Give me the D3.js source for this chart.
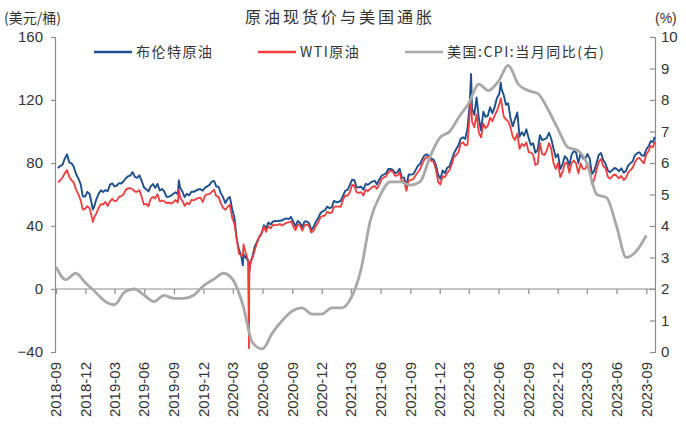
<!DOCTYPE html>
<html lang="zh">
<head>
<meta charset="UTF-8">
<script src="https://d3js.org/d3.v7.min.js"></script>
<title>原油现货价与美国通胀</title>
<style>
  body { margin: 0; background: #fff; }
  text { font-family: "Liberation Sans", Arial, sans-serif; fill: #333; }
  .cjk { font-family: "Noto Sans CJK SC", sans-serif; }
  .axis path, .axis line { stroke: #8c8c8c; stroke-width: 1.2; }
</style>
</head>
<body>
<div id="chart"></div>
<script>
// ---- data (weekly Friday spot, USD/bbl) ----
const brent2018 = [76.8, 78.1, 78.8, 82.7, 85.5, 80.4, 79.8, 77.6, 73.0, 70.2, 66.8, 58.8, 58.7, 61.7, 60.3, 53.8, 52.2];
const brent2019 = [57.1, 60.5, 62.7, 61.6, 62.8, 62.1, 66.3, 67.1, 65.1, 65.7, 67.2, 67.0, 68.4,
  70.3, 71.6, 72.0, 74.2, 71.2, 70.6, 72.2, 68.7, 64.5, 63.3, 62.0, 65.2, 66.6, 64.2, 66.7, 62.5, 63.5,
  61.9, 58.5, 58.6, 59.3, 60.4, 61.5, 60.2, 64.3, 61.9, 58.4, 60.5, 59.4, 61.7, 61.7, 62.5, 63.3, 63.4, 62.4,
  64.4, 65.2, 66.1, 68.2];
const brent2020 = [68.6, 65.0, 64.9, 60.7, 58.2, 54.5, 57.3, 58.5, 50.5, 45.3, 32.0, 25.0, 21.0,
  22.0, 20.0, 18.0, 16.0, 21.0, 27.0, 30.0, 33.0, 35.0, 40.5, 38.7, 42.2, 41.0, 42.8, 43.2, 43.1, 43.3, 43.5,
  44.4, 44.8, 44.4, 45.8, 42.7, 39.8, 43.2, 41.9, 39.3, 42.9, 42.9, 41.8, 37.5, 39.5, 42.8, 45.0, 48.2,
  49.3, 50.0, 52.3, 51.3];
const brent2021 = [51.8, 56.0, 55.1, 55.4, 55.9, 59.3, 62.4, 62.9, 66.1, 69.4, 69.2, 64.5, 64.6,
  64.9, 63.0, 66.8, 66.1, 67.3, 68.3, 68.7, 66.4, 69.6, 71.9, 72.7, 73.5, 76.2, 76.2, 75.6, 73.6, 74.1, 76.3,
  70.7, 70.6, 65.2, 72.7, 72.6, 72.9, 75.3, 78.1, 79.3, 82.4, 84.9, 85.5, 84.4, 82.7, 82.2, 78.9, 72.7,
  69.9, 75.2, 73.5, 76.9, 77.8];
const brent2022 = [81.8, 86.1, 88.9, 91.2, 95.4, 96.3, 95.3, 102.0, 118.1, 114.4, 110.6, 121.6,
  108.5, 100.6, 112.6, 109.3, 110.1, 115.4, 111.6, 115.6, 121.3, 123.6, 127.1, 123.2, 116.9,
  117.9, 108.4, 103.4, 107.8, 112.1, 96.7, 99.6, 97.3, 101.4, 95.8, 91.4, 92.5, 86.5, 88.3,
  97.6, 94.6, 95.2, 95.8, 99.2, 95.4, 89.2, 83.7, 85.6, 76.1, 79.3, 84.3, 82.8];
const brent2023 = [78.6, 85.3, 87.6, 86.7, 79.9, 86.4, 83.0, 82.4, 85.8, 82.8, 73.0, 75.0, 79.8,
  85.1, 86.3, 81.7, 79.5, 75.3, 74.2, 75.6, 76.9, 76.1, 74.8, 76.6, 73.9, 74.9, 78.5, 79.9, 81.1, 85.0,
  86.2, 86.8, 84.8, 84.5, 88.6, 90.6, 93.9, 93.3];

const wti2018 = [67.8, 69.0, 70.8, 73.3, 75.5, 71.3, 69.1, 67.6, 63.1, 60.2, 56.5, 50.4, 50.9, 52.6, 51.2, 45.6, 45.3];
const wti2019 = [48.0, 51.6, 53.8, 53.7, 55.3, 52.7, 55.6, 57.3, 55.8, 56.1, 58.5, 59.0, 60.1,
  63.1, 63.9, 64.0, 63.3, 61.9, 61.7, 62.8, 58.6, 53.5, 54.0, 52.5, 57.4, 58.5, 57.5, 60.2, 55.6, 56.2,
  55.7, 54.5, 54.9, 54.2, 55.1, 56.5, 54.9, 58.1, 55.9, 52.8, 54.7, 53.8, 56.6, 56.2, 57.2, 57.7, 58.0, 55.2,
  59.2, 60.1, 60.4, 61.7];
const wti2020 = [63.0, 59.0, 58.5, 54.2, 51.6, 50.3, 52.1, 53.4, 45.3, 41.3, 31.7, 22.4, 21.5,
  28.3, 22.8, 18.3, 16.9, 19.8, 24.7, 29.4, 33.3, 35.5, 39.6, 36.3, 39.8, 38.5, 40.7, 40.6, 40.6, 41.3, 40.3,
  41.2, 42.0, 42.3, 43.0, 39.8, 37.3, 41.1, 40.3, 37.1, 40.6, 40.9, 39.9, 35.8, 37.1, 40.1, 42.2, 45.5,
  46.3, 46.6, 49.1, 48.2];
const wti2021 = [48.5, 52.2, 52.4, 52.3, 52.2, 56.9, 59.5, 59.2, 61.5, 66.1, 65.6, 61.4, 61.0,
  61.5, 59.3, 63.1, 62.1, 63.6, 64.9, 65.4, 63.6, 66.3, 69.6, 70.9, 71.6, 74.0, 75.2, 74.6, 71.8, 72.1, 74.0,
  68.3, 68.4, 62.3, 68.7, 69.3, 69.7, 72.0, 74.0, 75.9, 79.4, 82.3, 83.8, 83.6, 81.3, 80.8, 76.1, 68.2,
  66.3, 71.7, 70.9, 73.8, 75.3];
const wti2022 = [78.9, 83.8, 85.1, 86.8, 92.3, 93.1, 91.1, 91.6, 112.0, 106.3, 102.7, 110.9,
  99.3, 96.3, 105.0, 102.1, 103.7, 108.8, 106.5, 110.2, 113.1, 116.9, 118.7, 109.6, 107.6,
  106.4, 102.8, 96.6, 94.7, 98.6, 89.0, 92.1, 90.8, 93.1, 86.9, 86.8, 85.1, 78.7, 79.5,
  92.6, 85.6, 85.1, 87.9, 92.6, 89.0, 80.1, 76.3, 80.0, 71.0, 74.3, 79.6, 80.5];
const wti2023 = [73.8, 79.9, 81.6, 79.7, 73.4, 79.7, 76.3, 76.3, 79.7, 76.7, 66.7, 69.3, 75.7,
  80.7, 82.5, 77.9, 76.8, 71.3, 70.0, 71.7, 72.7, 71.7, 70.2, 71.8, 69.2, 70.6, 73.9, 75.4, 77.1, 80.6,
  82.8, 83.2, 81.3, 79.8, 85.6, 87.5, 90.8, 90.0];

// daily points that the weekly closes miss
const extraDates = ["2018-12-24", "2019-09-16", "2020-04-01", "2020-04-20", "2020-04-21", "2022-03-08", "2022-06-08", "2023-09-27"];
const extraBrent = [50.5, 69.0, 15.0, 17.0, 11.0, 136.5, 131.0, 96.6];
const extraWti = [42.5, 62.9, 20.5, -37.6, 8.9, 119.0, 121.0, 93.7];

// US CPI YoY (%), monthly, 2018-08 .. 2023-08
const cpi = [2.7, 2.3, 2.5, 2.2, 1.9,
  1.6, 1.5, 1.9, 2.0, 1.8, 1.6, 1.8, 1.7, 1.7, 1.8, 2.1, 2.3,
  2.5, 2.3, 1.5, 0.3, 0.1, 0.6, 1.0, 1.3, 1.4, 1.2, 1.2, 1.4,
  1.4, 1.7, 2.6, 4.2, 5.0, 5.4, 5.4, 5.3, 5.4, 6.2, 6.8, 7.0,
  7.5, 7.9, 8.5, 8.3, 8.6, 9.1, 8.5, 8.3, 8.2, 7.7, 7.1, 6.5,
  6.4, 6.0, 5.0, 4.9, 4.0, 3.0, 3.2, 3.7];

const xTickLabels = ["2018-09", "2018-12", "2019-03", "2019-06", "2019-09", "2019-12", "2020-03",
  "2020-06", "2020-09", "2020-12", "2021-03", "2021-06", "2021-09", "2021-12", "2022-03", "2022-06",
  "2022-09", "2022-12", "2023-03", "2023-06", "2023-09"];
const leftTicks = [-40, 0, 40, 80, 120, 160];
const rightTicks = [0, 1, 2, 3, 4, 5, 6, 7, 8, 9, 10];

// ---- assemble ----
const parseDay = d3.timeParse("%Y-%m-%d");
const parseMonth = d3.timeParse("%Y-%m");
const fridays = d3.timeFriday.range(new Date(2018, 8, 7), new Date(2023, 8, 23));
const brent = [].concat(brent2018, brent2019, brent2020, brent2021, brent2022, brent2023);
const wti = [].concat(wti2018, wti2019, wti2020, wti2021, wti2022, wti2023);
const n = Math.min(fridays.length, brent.length, wti.length);

let oil = d3.range(n).map(i => ({ date: fridays[i], brent: brent[i], wti: wti[i] }));
extraDates.forEach((d, i) => oil.push({ date: parseDay(d), brent: extraBrent[i], wti: extraWti[i] }));
oil.sort((a, b) => a.date - b.date);

// monthly CPI plotted at month end
const cpiMonths = d3.timeMonth.range(new Date(2018, 8, 1), new Date(2023, 8, 2));
const cpiData = cpi.map((v, i) => ({ date: cpiMonths[i], v }));

// ---- chart ----
const width = 686, height = 425;
const svg = d3.select("#chart").append("svg")
  .attr("width", width).attr("height", height);
svg.append("rect").attr("width", width).attr("height", height).attr("fill", "#fff");

const x = d3.scaleTime()
  .domain([new Date(2018, 8, 1), new Date(2023, 8, 28)])
  .range([56, 655]);
const yL = d3.scaleLinear().domain([-40, 160]).range([352, 37]);
const yR = d3.scaleLinear().domain([0, 10]).range([352, 37]);

// left axis
const gL = svg.append("g").attr("class", "axis")
  .attr("transform", "translate(55,0)")
  .call(d3.axisLeft(yL).tickValues(leftTicks).tickSize(4).tickPadding(8));
gL.selectAll("text").attr("font-size", 15).style("fill", "#333");

// right axis
const gR = svg.append("g").attr("class", "axis")
  .attr("transform", "translate(655,0)")
  .call(d3.axisRight(yR).tickValues(rightTicks).tickSizeInner(-5).tickSizeOuter(-5).tickPadding(6));
gR.selectAll("text").attr("font-size", 15).style("fill", "#333");

// x axis on the zero line
const tickDates = xTickLabels.map(parseMonth);
const gX = svg.append("g").attr("class", "axis")
  .attr("transform", `translate(0,${yL(0)})`)
  .call(d3.axisBottom(x).tickValues(tickDates).tickSize(5).tickSizeOuter(0).tickFormat(""));
gX.select(".domain").attr("d", `M55,0H655`);

svg.append("g").selectAll("text")
  .data(tickDates)
  .join("text")
  .attr("transform", d => `translate(${x(d)},362) rotate(-90)`)
  .attr("text-anchor", "end")
  .attr("dy", "0.35em")
  .attr("font-size", 15)
  .text(d3.timeFormat("%Y-%m"));

// lines
const lineBrent = d3.line().x(d => x(d.date)).y(d => yL(d.brent));
const lineWti = d3.line().x(d => x(d.date)).y(d => yL(d.wti));
const lineCpi = d3.line().x(d => x(d.date)).y(d => yR(d.v)).curve(d3.curveMonotoneX);

svg.append("path").datum(oil)
  .attr("d", lineBrent).attr("fill", "none")
  .attr("stroke", "#1c4f8c").attr("stroke-width", 1.9).attr("stroke-linejoin", "round");
svg.append("path").datum(oil)
  .attr("d", lineWti).attr("fill", "none")
  .attr("stroke", "#f03c3c").attr("stroke-width", 1.8).attr("stroke-linejoin", "round");
svg.append("path").datum(cpiData)
  .attr("d", lineCpi).attr("fill", "none")
  .attr("stroke", "#a8a8a8").attr("stroke-width", 2.8);

// titles
svg.append("text").attr("class", "cjk")
  .attr("x", 340).attr("y", 23).attr("text-anchor", "middle")
  .attr("font-size", 16).attr("letter-spacing", 3)
  .text("原油现货价与美国通胀");
svg.append("text").attr("class", "cjk")
  .attr("x", 4).attr("y", 23).attr("font-size", 14)
  .text("(美元/桶)");
svg.append("text")
  .attr("x", 655).attr("y", 23).attr("font-size", 14)
  .text("(%)");

// legend
const legend = [
  { label: "布伦特原油", color: "#1c4f8c", x: 94 },
  { label: "WTI原油", color: "#f03c3c", x: 258 },
  { label: "美国:CPI:当月同比(右)", color: "#a8a8a8", x: 405 }
];
const lg = svg.append("g").selectAll("g").data(legend).join("g")
  .attr("transform", d => `translate(${d.x},52)`);
lg.append("line").attr("x1", 0).attr("x2", 38)
  .attr("stroke", d => d.color).attr("stroke-width", 2.5);
lg.append("text").attr("class", "cjk")
  .attr("x", 42).attr("dy", "0.35em")
  .attr("font-size", 14).attr("letter-spacing", 1.5)
  .text(d => d.label);
</script>
</body>
</html>
